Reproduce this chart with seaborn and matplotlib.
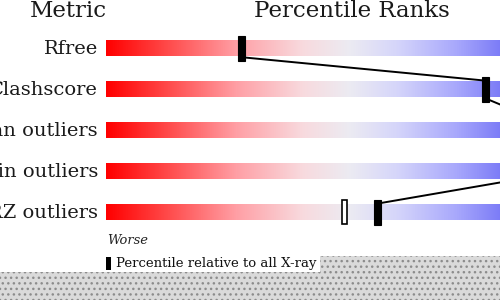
import numpy as np
import pandas as pd
import matplotlib
matplotlib.use("Agg")
import matplotlib.pyplot as plt
import matplotlib.transforms as mtransforms
from matplotlib.colors import LinearSegmentedColormap
from matplotlib.patches import Rectangle
import seaborn as sns

# ---- data ----
metrics = ["Rfree", "Clashscore", "Ramachandran outliers", "Sidechain outliers", "RSRZ outliers"]
pct_all_xray = [29, 81, 93, 87, 58]          # black markers (percentile vs all X-ray)
pct_similar_res = [None, None, None, None, 51]  # hollow markers (similar resolution)
title_left = "Metric"
title_right = "Percentile Ranks"
worse_label = "Worse"
legend_label = "Percentile relative to all X-ray"

sns.set_theme(style="white")
plt.rcParams["font.family"] = ["DejaVu Serif"]

W, H = 500, 300
fig = plt.figure(figsize=(W / 100, H / 100), dpi=100)
ax = fig.add_axes([0, 0, 1, 1])
ax.set_axis_off()

# layout: percentile 0 at px 106, 100 at px 574; rows 41 px apart starting at px 48
x0px, x100px = 106, 574
ppp = (x100px - x0px) / 100.0
row0px, rowpx = 48, 41

cmap = LinearSegmentedColormap.from_list(
    "slider",
    [(0.0, "#ff0000"), (0.12, "#ff4444"), (0.28, "#ffa0a6"), (0.42, "#f8dade"),
     (0.52, "#ecebf2"), (0.62, "#d6d6fa"), (0.75, "#a8a8fc"), (0.86, "#7474f6"), (1.0, "#2828ee")])
grad = np.linspace(0, 1, 512).reshape(1, -1)
bar_h = 15.5 / rowpx
for i, m in enumerate(metrics):
    ax.imshow(grad, cmap=cmap, aspect="auto", extent=[0, 100, i + bar_h / 2, i - bar_h / 2],
              interpolation="bilinear", zorder=1)

# connecting line (bottom of one marker to top of the next)
mk_h = 25 / rowpx
mk_w = 7 / ppp
pts_x, pts_y = [], []
for i, v in enumerate(pct_all_xray):
    pts_x += [v, v]
    pts_y += [i - mk_h / 2 + 0.1, i + mk_h / 2 - 0.08]
line_df = pd.DataFrame({"x": pts_x, "y": pts_y})
sns.lineplot(data=line_df, x="x", y="y", sort=False, color="black", lw=1.4, ax=ax, zorder=3,
             estimator=None)
ax.set_xlim(-x0px / ppp, (W - x0px) / ppp)
ax.set_ylim((H - row0px) / rowpx, -row0px / rowpx)
ax.set_axis_off()

# markers
for i, v in enumerate(pct_all_xray):
    ax.add_patch(Rectangle((v - mk_w / 2, i - mk_h / 2), mk_w, mk_h, facecolor="black",
                           edgecolor="black", lw=0.8, zorder=4))
for i, v in enumerate(pct_similar_res):
    if v is not None:
        ax.add_patch(Rectangle((v - mk_w * 0.4, i - mk_h / 2 + 0.02), mk_w * 0.8, mk_h - 0.04,
                               facecolor="white", edgecolor="black", lw=1.2, zorder=4))

# labels
lab_tr = mtransforms.blended_transform_factory(fig.transFigure, ax.transData)
for i, m in enumerate(metrics):
    ax.text(98 / W, i + 0.02, m, transform=lab_tr, ha="right", va="center", fontsize=14.0,
            color="#1a1a1a")

fig.text(68 / W, 1 - 17 / H, title_left, ha="center", va="baseline", fontsize=16.5, color="#1a1a1a")
fig.text(352 / W, 1 - 17 / H, title_right, ha="center", va="baseline", fontsize=16.5, color="#1a1a1a")
fig.text(107 / W, 1 - 240 / H, worse_label, ha="left", va="center", fontsize=9.4,
         style="italic", color="#222222")

# legend glyph and text
fig.patches.append(Rectangle((106 / W, 1 - 270 / H), 4.5 / W, 13 / H, transform=fig.transFigure,
                             facecolor="black", edgecolor="none", zorder=5))
fig.text(116 / W, 1 - 264 / H, legend_label, ha="left", va="center", fontsize=9.5,
         color="#111111", zorder=5)

# gray dotted region at the bottom (page background in the original image)
plt.rcParams["hatch.color"] = "#8c8c8c"
for (xa, ya, w, h) in [(0, 272, W, 28), (320, 256, W - 320, 16)]:
    fig.patches.append(Rectangle((xa / W, 1 - (ya + h) / H), w / W, h / H, transform=fig.transFigure,
                                 facecolor="#dadada", edgecolor="#8c8c8c", lw=0, hatch="...",
                                 zorder=6))

fig.savefig("out.png", dpi=100)
